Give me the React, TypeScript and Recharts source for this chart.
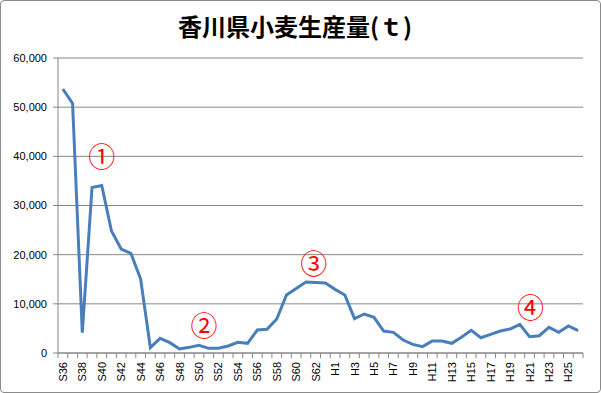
import React from 'react';
import { LineChart, Line, XAxis, YAxis, CartesianGrid, ReferenceDot } from 'recharts';

const categories = [
  'S36','S37','S38','S39','S40','S41','S42','S43','S44','S45','S46','S47','S48','S49','S50','S51','S52','S53','S54','S55','S56','S57','S58','S59','S60','S61','S62','S63',
  'H1','H2','H3','H4','H5','H6','H7','H8','H9','H10','H11','H12','H13','H14','H15','H16','H17','H18','H19','H20','H21','H22','H23','H24','H25','H26',
];
const production = [
  53700, 50750, 4130, 33680, 34080, 24800, 21140, 20260, 15040, 1080,
  2980, 2100, 810, 1150, 1560, 950, 950, 1420, 2170, 1970,
  4670, 4810, 6910, 11790, 13140, 14430, 14360, 14230, 12940, 11790,
  6980, 7930, 7250, 4470, 4200, 2640, 1760, 1290, 2440, 2440,
  1970, 3190, 4610, 3110, 3800, 4470, 4880, 5830, 3310, 3520,
  5220, 4200, 5490, 4540,
];
const yTicks = [0, 10000, 20000, 30000, 40000, 50000, 60000];
const markLabels = ['①', '②', '③', '④'];
const markCategories = ['S40', 'S50', 'S62', 'H21'];
const markValues = [40200, 5700, 18500, 9400];
const markShift = [0, 5, -2, 1];
const title = '香川県小麦生産量(ｔ)';

const data = categories.map((c, i) => ({ year: c, value: production[i] }));

const AXIS_COLOR = '#868686';

const XTick = (props: any) => {
  const { x, y, payload, index, visibleTicksCount } = props;
  const off = payload && typeof payload.offset === 'number' && payload.offset > 0 ? payload.offset : 4.85;
  const isLast = index === (visibleTicksCount ?? categories.length) - 1;
  return (
    <g>
      <line x1={x - off} x2={x - off} y1={y} y2={y + 5} stroke={AXIS_COLOR} strokeWidth={1} />
      {isLast && <line x1={x + off} x2={x + off} y1={y} y2={y + 5} stroke={AXIS_COLOR} strokeWidth={1} />}
      {index % 2 === 0 && (
        <text
          x={x}
          y={y + 9}
          transform={`rotate(-90 ${x} ${y + 9})`}
          textAnchor="end"
          dominantBaseline="central"
          fontSize={11}
          fontFamily="'Liberation Sans', Arial, sans-serif"
          fill="#000"
        >
          {payload.value}
        </text>
      )}
    </g>
  );
};

const MarkLabel = (text: string, shift: number) => (props: any) => {
  const vb = props.viewBox || {};
  const cx = vb.x + (vb.width || 0) / 2 + shift;
  const cy = vb.y + (vb.height || 0) / 2;
  return (
    <text
      x={cx}
      y={cy}
      textAnchor="middle"
      dominantBaseline="central"
      fontSize={27}
      fontFamily="'Noto Sans CJK JP', sans-serif"
      fill="#FF0000"
    >
      {text}
    </text>
  );
};

export default function App() {
  return (
    <div
      style={{
        position: 'absolute',
        left: 0,
        top: 0,
        width: 601,
        height: 393,
        boxSizing: 'border-box',
        border: '1px solid #8a8a8a',
        borderRadius: 4,
        background: '#fff',
        overflow: 'hidden',
      }}
    >
      <div
        style={{
          position: 'absolute',
          left: 0,
          top: 10,
          width: 588,
          textAlign: 'center',
          fontFamily: "'Noto Sans CJK JP', sans-serif",
          fontWeight: 700,
          fontSize: 24,
          lineHeight: '30px',
          color: '#000',
        }}
      >
        {title}
      </div>
      <div style={{ position: 'absolute', left: -1, top: -1 }}>
        <LineChart width={601} height={393} data={data} margin={{ top: 58, right: 18, bottom: 0, left: 0 }}>
          <CartesianGrid vertical={false} stroke={AXIS_COLOR} strokeWidth={1} />
          <XAxis
            dataKey="year"
            scale="band"
            interval={0}
            tickLine={false}
            tickSize={0}
            tickMargin={0}
            height={40}
            axisLine={{ stroke: AXIS_COLOR }}
            tick={<XTick />}
          />
          <YAxis
            domain={[0, 60000]}
            ticks={yTicks}
            width={58}
            tickSize={5}
            tickMargin={6}
            axisLine={{ stroke: AXIS_COLOR }}
            tickLine={{ stroke: AXIS_COLOR }}
            tick={{ fontSize: 11, fill: '#000', fontFamily: "'Liberation Sans', Arial, sans-serif" }}
            tickFormatter={(v: number) => v.toLocaleString('en-US')}
          />
          <Line
            type="linear"
            dataKey="value"
            stroke="#4A7EBB"
            strokeWidth={3}
            dot={false}
            activeDot={false}
            isAnimationActive={false}
          />
          {markLabels.map((t, i) => (
            <ReferenceDot
              key={t}
              x={markCategories[i]}
              y={markValues[i]}
              r={0}
              fill="none"
              stroke="none"
              label={MarkLabel(t, markShift[i])}
            />
          ))}
        </LineChart>
      </div>
    </div>
  );
}
